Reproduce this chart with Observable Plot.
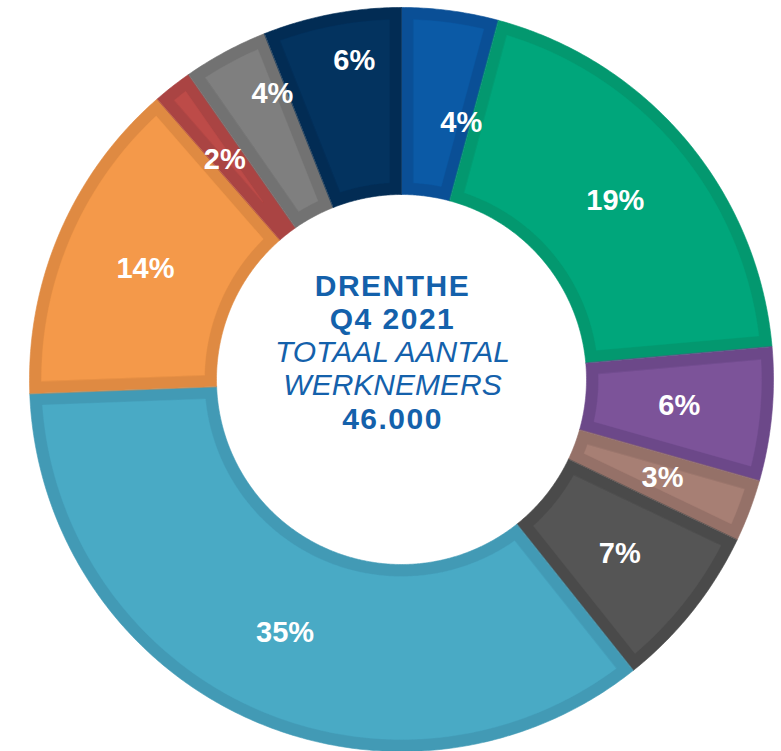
<!DOCTYPE html>
<html>
<head>
<meta charset="utf-8">
<script src="https://cdn.jsdelivr.net/npm/d3@7"></script>
<script src="https://cdn.jsdelivr.net/npm/@observablehq/plot@0.6"></script>
<style>
  html, body { margin: 0; padding: 0; background: #ffffff; }
  #chart { width: 781px; height: 751px; }
</style>
</head>
<body>
<div id="chart"></div>
<script>
// ---- Data ----
const categories = ["A", "B", "C", "D", "E", "F", "G", "H", "I", "J"];
const shares = [4.2, 19.4, 5.8, 2.7, 7.2, 35.1, 14.2, 1.7, 3.7, 6.0];
const shareLabels = ["4%", "19%", "6%", "3%", "7%", "35%", "14%", "2%", "4%", "6%"];
const fillColors = ["#0b5aa6", "#00a67b", "#7c5399", "#a77f74", "#555555", "#49aac5", "#f4994a", "#bd4b48", "#7f7f7f", "#03335f"];
const borderColors = ["#0a4f96", "#03986f", "#6c4889", "#957168", "#4a4a4a", "#429ab5", "#df8a42", "#aa4443", "#727272", "#022c54"];
const centerLines = ["DRENTHE", "Q4 2021", "TOTAAL AANTAL", "WERKNEMERS", "46.000"];
const centerStyles = ["bold", "bold", "italic", "italic", "bold"];

// ---- Layout (pixel units, scales are 1:1) ----
const W = 781, H = 751;
const CX = 401, CY = 379;
const RO = 372, RI = 185, BORDER = 12, LABEL_R = 279;
const labelNudge = [[23, -20], [0, 0], [0, 0], [0, 0], [0, 0], [0, 0], [0, 0], [-5, 0], [3, 40], [5, 45]];

const total = d3.sum(shares);
let acc = 0;
const slices = shares.map((v, i) => {
  const a0 = acc / total * 2 * Math.PI;
  acc += v;
  const a1 = acc / total * 2 * Math.PI;
  return {i, cat: categories[i], a0, a1};
});

function arc(r, from, to) {
  const n = Math.max(2, Math.ceil(Math.abs(to - from) / (Math.PI / 360)));
  const pts = [];
  for (let k = 0; k <= n; k++) {
    const a = from + (to - from) * k / n;
    pts.push([r * Math.sin(a), r * Math.cos(a)]);
  }
  return pts;
}

const outerPts = [];
const innerPts = [];
for (const s of slices) {
  for (const [x, y] of [...arc(RO, s.a0, s.a1), ...arc(RI, s.a1, s.a0)]) {
    outerPts.push({x, y, cat: s.cat, color: borderColors[s.i]});
  }
  const ro = RO - BORDER;
  const rStar = BORDER / Math.sin((s.a1 - s.a0) / 2);
  const ri = Math.max(RI + BORDER, rStar);
  const dOut = Math.asin(BORDER / ro), dIn = Math.asin(Math.min(1, BORDER / ri));
  const mid = (s.a0 + s.a1) / 2;
  const o0 = Math.min(mid, s.a0 + dOut), o1 = Math.max(mid, s.a1 - dOut);
  const i0 = Math.min(mid, s.a0 + dIn), i1 = Math.max(mid, s.a1 - dIn);
  for (const [x, y] of [...arc(ro, o0, o1), ...arc(ri, i1, i0)]) {
    innerPts.push({x, y, cat: s.cat, color: fillColors[s.i]});
  }
}

const labelData = slices.map(s => {
  const mid = (s.a0 + s.a1) / 2;
  return {
    x: LABEL_R * Math.sin(mid) + labelNudge[s.i][0],
    y: LABEL_R * Math.cos(mid) + labelNudge[s.i][1],
    text: shareLabels[s.i]
  };
});

const lineGap = 33.2, centerMidY = 27, centerX = -9;
const centerData = centerLines.map((t, i) => ({
  text: t, style: centerStyles[i], x: centerX, y: centerMidY - (i - 2) * lineGap
}));

const font = "'Liberation Sans', Arial, Helvetica, sans-serif";

const chart = Plot.plot({
  width: W,
  height: H,
  margin: 0,
  x: {domain: [-CX, W - CX], axis: null},
  y: {domain: [-(H - CY), CY], axis: null},
  color: {type: "identity"},
  style: {fontFamily: font, background: "#ffffff"},
  marks: [
    Plot.line(outerPts, {x: "x", y: "y", z: "cat", fill: "color", stroke: "color", strokeWidth: 0.6, curve: "linear-closed"}),
    Plot.line(innerPts, {x: "x", y: "y", z: "cat", fill: "color", stroke: "color", strokeWidth: 0.4, curve: "linear-closed"}),
    Plot.text(labelData, {x: "x", y: "y", text: "text", fill: "#ffffff", fontSize: 29, fontWeight: "bold", fontFamily: font}),
    Plot.text(centerData.filter(d => d.style === "bold"), {x: "x", y: "y", text: "text", fill: "#1461ab", fontSize: 30, fontWeight: "bold", fontFamily: font, ariaDescription: "center-bold"}),
    Plot.text(centerData.filter(d => d.style === "italic"), {x: "x", y: "y", text: "text", fill: "#1461ab", fontSize: 30, fontStyle: "italic", fontFamily: font})
  ]
});

chart.querySelectorAll('g[aria-description="center-bold"] text').forEach(t => t.setAttribute("letter-spacing", "1.5"));
document.getElementById("chart").appendChild(chart);
</script>
</body>
</html>
